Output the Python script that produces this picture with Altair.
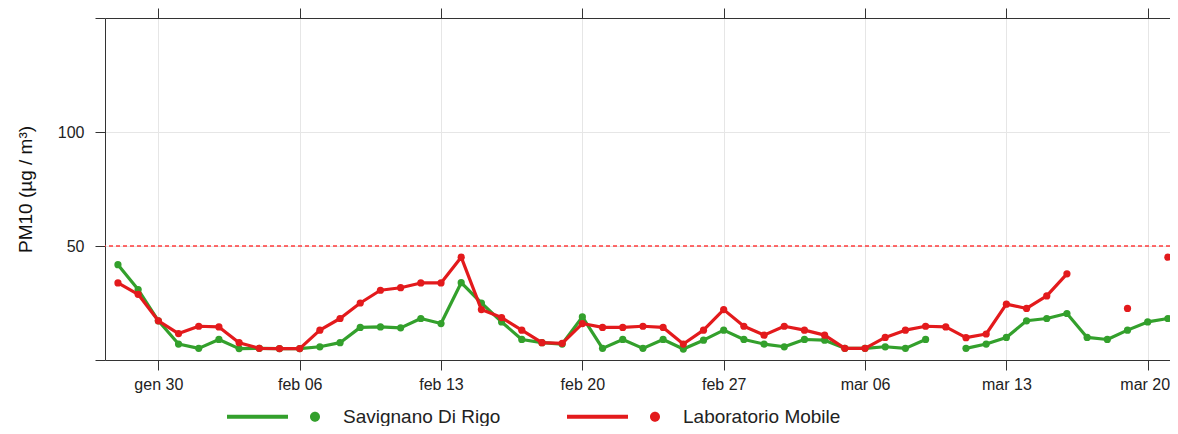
import altair as alt
import pandas as pd

# ---------------- data ----------------
dates = [d.strftime("%Y-%m-%d") for d in pd.date_range("2023-01-28", "2023-03-21", freq="D")]

S_NAME = "Savignano Di Rigo"
L_NAME = "Laboratorio Mobile"

savignano = [41.8, 30.9, 17.2, 7.0, 5.1, 9.0, 5.0, 5.1, 5.0, 5.0,
             5.8, 7.6, 14.3, 14.5, 14.1, 18.2, 16.0, 33.9, 25.0, 16.7,
             9.0, 7.6, 7.0, 18.9, 5.1, 9.0, 5.1, 9.0, 4.8, 8.7,
             13.1, 9.0, 7.0, 5.8, 9.0, 8.7, 5.1, 5.1, 5.8, 5.1,
             9.0, None, 5.1, 7.0, 9.9, 17.2, 18.2, 20.4, 9.9, 9.0,
             13.1, 16.7, 18.2]

laboratorio = [33.8, 28.8, 17.2, 11.6, 14.8, 14.5, 7.6, 5.1, 5.0, 5.0,
               13.1, 18.2, 25.0, 30.6, 31.7, 33.8, 33.8, 45.1, 22.1, 18.6,
               13.1, 7.6, 7.3, 16.0, 14.3, 14.3, 14.8, 14.3, 7.0, 13.1,
               22.1, 14.8, 10.9, 14.8, 13.1, 10.9, 5.1, 5.1, 9.9, 13.1,
               14.8, 14.5, 9.8, 11.4, 24.5, 22.6, 28.1, 37.8, None, None,
               22.6, None, 45.1]

tick_dates = [(2023, 1, 30), (2023, 2, 6), (2023, 2, 13), (2023, 2, 20),
              (2023, 2, 27), (2023, 3, 6), (2023, 3, 13), (2023, 3, 20)]
month_names = ["gen", "feb", "mar"]
y_ticks = [0, 50, 100, 150]
limit_value = [50]

GREEN = "#33a02c"
RED = "#e31a1c"

rows = []
for name, vals in [(S_NAME, savignano), (L_NAME, laboratorio)]:
    seg = 0
    for d, v in zip(dates, vals):
        if v is None:
            seg += 1
            continue
        rows.append({"date": d, "pm10": v, "series": name, "seg": f"{name}-{seg}"})
df = pd.DataFrame(rows)
limit_df = pd.DataFrame({"lim": limit_value})

# ---------------- scales / axes ----------------
x_scale = alt.Scale(
    type="utc",
    domain=[alt.DateTime(year=2023, month=1, date=27, hours=8, minutes=36, utc=True),
            alt.DateTime(year=2023, month=3, date=21, hours=2, minutes=30, utc=True)],
    nice=False,
)
y_scale = alt.Scale(domain=[0, 150], nice=False, zero=True)
color_scale = alt.Scale(domain=[S_NAME, L_NAME], range=[GREEN, RED])

tick_vals = [alt.DateTime(year=y, month=m, date=d, utc=True) for (y, m, d) in tick_dates]
label_expr = ("['" + "','".join(month_names) + "'][utcmonth(datum.value)] + ' ' + "
              "utcFormat(datum.value, '%d')")

axis_common = dict(tickSize=10, tickColor="#333333", domainColor="#333333",
                   tickWidth=1, domainWidth=1, labelColor="#222222")

x_axis_bottom = alt.Axis(
    orient="bottom", values=tick_vals, labelExpr=label_expr,
    grid=True, gridColor="#e6e6e6", labelPadding=6, labelFontSize=16, title=None,
    labelOffset={"condition": {"test": "utcmonth(datum.value) == 2 && utcdate(datum.value) == 20",
                               "value": -3},
                 "value": 0},
    **axis_common)
x_axis_top = alt.Axis(orient="top", values=tick_vals, labels=False, grid=False,
                      title=None, **axis_common)
y_axis = alt.Axis(orient="left", values=y_ticks,
                  labelExpr="(datum.value == 50 || datum.value == 100) ? datum.label : ''",
                  grid=True, gridColor="#e6e6e6", labelPadding=11, labelFontSize=16,
                  title="PM10 (µg / m³)", titleFontSize=19, titleFontWeight="normal",
                  titlePadding=22, titleColor="#111111", **axis_common)

LEGEND_PATH = ("M-1,-0.043L0.312,-0.043L0.312,0.043L-1,0.043Z "
               "M0.785,0A0.1075,0.1075,0,1,0,1.0,0A0.1075,0.1075,0,1,0,0.785,0Z")

legend = alt.Legend(orient="none", legendX=122, legendY=352, direction="horizontal",
                    title=None, symbolType=LEGEND_PATH, symbolSize=8649,
                    symbolStrokeWidth=0, symbolOpacity=1, labelFontSize=19,
                    labelOffset=23, columnPadding=66, padding=0, labelLimit=400,
                    labelColor="#222222")

color_enc = alt.Color("series:N", scale=color_scale, legend=legend)
y_enc = alt.Y("pm10:Q", scale=y_scale, axis=y_axis)

base = alt.Chart(df)

limit_rule = alt.Chart(limit_df).mark_rule(color="#ff3b3b", strokeDash=[4, 3],
                                           strokeWidth=1.3).encode(
    y=alt.Y("lim:Q", scale=y_scale, axis=y_axis)
)

def line_layer(name, xaxis):
    return base.transform_filter(alt.datum.series == name).mark_line(
        strokeWidth=3.2, strokeJoin="round", strokeCap="round").encode(
        x=alt.X("date:T", scale=x_scale, axis=xaxis),
        y=y_enc,
        color=color_enc,
        detail="seg:N",
    )

def point_layer(name):
    return base.transform_filter(alt.datum.series == name).mark_circle(
        size=52, opacity=1).encode(
        x=alt.X("date:T", scale=x_scale, axis=None),
        y=y_enc,
        color=color_enc,
    )

chart = alt.layer(
    limit_rule,
    line_layer(S_NAME, x_axis_bottom),
    point_layer(S_NAME),
    line_layer(L_NAME, x_axis_top),
    point_layer(L_NAME),
).properties(
    width=1065,
    height=342,
    autosize=alt.AutoSizeParams(type="none"),
    padding={"left": 97, "top": 10, "right": 0, "bottom": 66},
).configure(
    font="Liberation Sans",
    background="white",
).configure_view(
    stroke=None,
)

chart.save("out.html", embed_options={"renderer": "svg", "actions": False})
